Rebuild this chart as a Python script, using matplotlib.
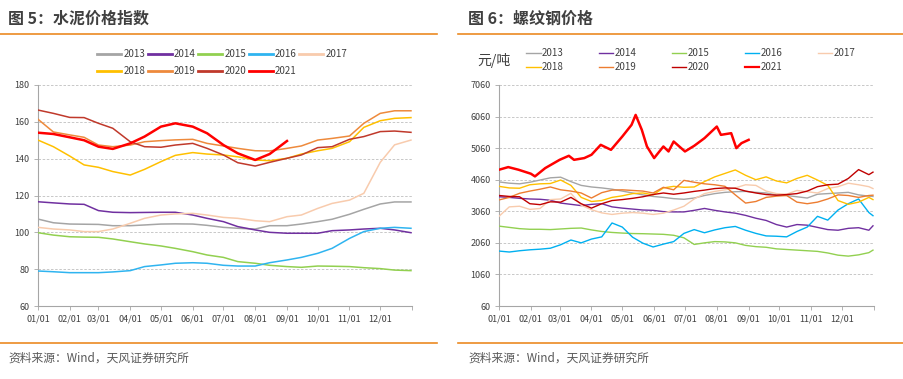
import matplotlib
matplotlib.use("Agg")
import matplotlib.pyplot as plt
from matplotlib.lines import Line2D

plt.rcParams['font.family'] = ['Noto Sans CJK SC', 'DejaVu Sans']

years = ['2013', '2014', '2015', '2016', '2017', '2018', '2019', '2020', '2021']
colors = ['#A5A5A5', '#7030A0', '#92D050', '#00B0F0', '#F8CBAD',
          '#FFC000', '#ED7D31', '#C00000', '#FF0000']
colors_left = ['#A5A5A5', '#7030A0', '#92D050', '#2FB4F0', '#F8CBAD',
               '#FFC000', '#EE8A3C', '#C0392B', '#FF0000']

month_days = [0, 31, 59, 90, 120, 151, 181, 212, 243, 273, 304, 334]
month_labels = ['01/01', '02/01', '03/01', '04/01', '05/01', '06/01',
                '07/01', '08/01', '09/01', '10/01', '11/01', '12/01']

# 图5 水泥价格指数 (semi-monthly readings)
cement_days = [0, 15, 31, 45, 59, 73, 90, 104, 120, 134, 151, 165, 181,
               195, 212, 226, 243, 257, 273, 287, 304, 318, 334, 348, 364]
cement_2013 = [107.2, 105.2, 104.5, 104.4, 104.3, 103.6, 103.6, 104.0, 104.5, 104.6, 104.5, 103.8, 102.7,
               102.2, 101.8, 103.6, 103.6, 104.5, 105.8, 107.1, 109.8, 112.5, 115.4, 116.5, 116.5]
cement_2014 = [116.6, 116.0, 115.4, 115.2, 111.8, 110.9, 110.7, 110.8, 110.9, 110.9, 109.4, 107.6, 105.8,
               103.1, 101.3, 100.0, 99.5, 99.5, 99.5, 100.9, 101.3, 101.8, 102.2, 101.3, 99.8]
cement_2015 = [99.8, 98.5, 97.6, 97.4, 97.3, 96.4, 94.9, 93.7, 92.6, 91.3, 89.5, 87.7, 86.4,
               84.1, 83.2, 82.1, 81.4, 81.0, 81.7, 81.6, 81.4, 80.8, 80.3, 79.5, 79.2]
cement_2016 = [79.0, 78.6, 78.1, 78.1, 78.1, 78.5, 79.2, 81.4, 82.3, 83.2, 83.5, 83.2, 82.1,
               81.7, 81.7, 83.5, 85.0, 86.4, 88.6, 91.3, 96.7, 100.4, 102.2, 102.7, 102.2]
cement_2017 = [102.7, 101.8, 101.3, 100.4, 100.4, 101.8, 104.9, 107.6, 109.4, 110.0, 110.3, 109.4, 108.1,
               107.6, 106.3, 105.8, 108.5, 109.4, 113.0, 115.7, 117.5, 121.2, 138.0, 147.5, 150.1]
cement_2018 = [150.1, 146.5, 141.4, 136.6, 135.3, 133.0, 131.1, 134.2, 138.4, 141.8, 143.3, 142.5, 142.0,
               141.0, 139.3, 138.9, 140.2, 142.5, 144.3, 145.6, 149.2, 157.0, 160.6, 161.9, 162.3]
cement_2019 = [161.4, 154.5, 152.9, 151.6, 147.4, 146.5, 147.4, 149.2, 149.8, 150.2, 150.5, 148.3, 146.9,
               145.6, 144.3, 144.2, 145.6, 146.9, 150.1, 151.0, 152.3, 159.2, 164.6, 166.0, 166.0]
cement_2020 = [166.4, 164.6, 162.4, 162.3, 159.2, 156.5, 149.2, 146.5, 146.2, 147.4, 148.3, 145.6, 142.0,
               137.8, 136.0, 138.0, 140.2, 142.0, 146.0, 146.5, 150.5, 152.0, 154.7, 155.0, 154.3]
cement_2021 = [154.1, 153.4, 151.6, 150.0, 146.5, 145.3, 148.3, 152.0, 157.4, 159.2, 157.4, 153.8, 147.4,
               142.9, 139.3, 142.5, 149.6]
cement = [cement_2013, cement_2014, cement_2015, cement_2016, cement_2017,
          cement_2018, cement_2019, cement_2020, cement_2021]

# 图6 螺纹钢价格 (readings every 10 days)
steel_days = [0, 10, 20, 30, 40, 50, 60, 70, 80, 90, 100, 110, 120, 130, 140, 150, 160, 170, 180,
              190, 200, 210, 220, 230, 240, 250, 260, 270, 280, 290, 300, 310, 320, 330, 340, 350, 360, 364]
steel_2013 = [3990, 3950, 3930, 3980, 4050, 4120, 4140, 4000, 3880, 3830, 3800, 3760, 3700, 3640, 3580, 3530, 3500, 3460, 3440,
              3480, 3560, 3620, 3660, 3680, 3690, 3660, 3640, 3580, 3560, 3520, 3480, 3600, 3620, 3640, 3660, 3580, 3540, 3530]
steel_2014 = [3520, 3500, 3470, 3450, 3440, 3410, 3320, 3280, 3240, 3280, 3300, 3200, 3160, 3130, 3100, 3090, 3050, 3040, 3040,
              3090, 3150, 3090, 3040, 3000, 2930, 2840, 2770, 2640, 2560, 2640, 2620, 2550, 2480, 2460, 2520, 2540, 2460, 2600]
steel_2015 = [2590, 2550, 2510, 2490, 2490, 2480, 2500, 2520, 2530, 2470, 2420, 2390, 2370, 2355, 2350, 2340, 2330, 2300, 2220,
              2010, 2060, 2100, 2090, 2060, 1980, 1940, 1920, 1870, 1850, 1830, 1810, 1790, 1740, 1670, 1640, 1680, 1750, 1830]
steel_2016 = [1800, 1770, 1810, 1840, 1860, 1890, 2000, 2150, 2060, 2180, 2250, 2690, 2560, 2240, 2050, 1930, 2020, 2100, 2360,
              2480, 2380, 2470, 2540, 2580, 2460, 2360, 2280, 2270, 2250, 2420, 2560, 2900, 2780, 3100, 3300, 3450, 3020, 2920]
steel_2017 = [2900, 3200, 3220, 3120, 3150, 3430, 3450, 3630, 3250, 3110, 3010, 2960, 3000, 3020, 3000, 2960, 3000, 3100, 3220,
              3450, 3620, 3690, 3740, 3800, 3900, 3880, 3700, 3620, 3600, 3720, 3680, 3640, 3780, 3840, 3950, 3900, 3840, 3780]
steel_2018 = [3850, 3800, 3790, 3900, 3930, 3940, 4050, 3880, 3500, 3370, 3400, 3500, 3550, 3620, 3640, 3580, 3800, 3850, 3820,
              3830, 4000, 4150, 4260, 4370, 4200, 4060, 4150, 4020, 3960, 4100, 4200, 4050, 3880, 3400, 3280, 3350, 3500, 3430]
steel_2019 = [3420, 3500, 3630, 3700, 3760, 3830, 3740, 3700, 3640, 3480, 3650, 3730, 3740, 3720, 3700, 3640, 3820, 3740, 4040,
              3980, 3930, 3900, 3850, 3580, 3320, 3370, 3500, 3540, 3560, 3350, 3300, 3350, 3450, 3580, 3560, 3500, 3560, 3570]
steel_2020 = [3560, 3530, 3520, 3300, 3270, 3360, 3350, 3500, 3300, 3160, 3300, 3400, 3430, 3470, 3520, 3590, 3640, 3600, 3640,
              3690, 3730, 3780, 3800, 3790, 3700, 3640, 3590, 3570, 3590, 3620, 3700, 3840, 3900, 3920, 4100, 4380, 4220, 4300]
steel_2021_days = [0, 9, 19, 31, 35, 45, 59, 68, 73, 83, 90, 99, 109, 120, 129, 133, 139, 144, 151,
                   160, 165, 170, 181, 190, 200, 212, 216, 226, 231, 236, 243]
steel_2021 = [4376, 4460, 4376, 4250, 4165, 4428, 4690, 4818, 4690, 4745, 4850, 5165, 5007, 5428, 5797, 6113, 5640, 5113, 4745,
              5113, 4955, 5270, 4955, 5134, 5376, 5744, 5481, 5534, 5060, 5218, 5323]
steel = [steel_2013, steel_2014, steel_2015, steel_2016, steel_2017,
         steel_2018, steel_2019, steel_2020, steel_2021]

W, H = 904, 379
fig = plt.figure(figsize=(W / 100, H / 100), dpi=100)

orange = '#EB8A23'
text_gray = '#595959'
axis_gray = '#A6A6A6'

# legend fills column by column, so interleave the two rows
leg_order = [0, 5, 1, 6, 2, 7, 3, 8, 4]


def px_rect(x0, y0, x1, y1):
    return [x0 / W, 1 - y1 / H, (x1 - x0) / W, (y1 - y0) / H]


def style_axes(ax, yticks):
    ax.set_xlim(0, 365)
    ax.set_ylim(yticks[0], yticks[-1])
    ax.set_yticks(yticks)
    ax.set_xticks(month_days + [365])
    ax.set_xticklabels(month_labels + [''])
    for s in ['top', 'right']:
        ax.spines[s].set_visible(False)
    for s in ['left', 'bottom']:
        ax.spines[s].set_color(axis_gray)
        ax.spines[s].set_linewidth(0.8)
    ax.tick_params(axis='both', colors=axis_gray, labelcolor='#404040',
                   labelsize=6.5, length=3, width=0.6, direction='out')
    ax.tick_params(axis='y', pad=3)
    ax.tick_params(axis='x', pad=3)
    ax.grid(axis='y', color='#BFBFBF', linestyle=(0, (3, 2)), linewidth=0.6)
    ax.set_axisbelow(True)


# left chart
ax1 = fig.add_axes(px_rect(38, 85, 412, 306))
for i, yr in enumerate(years):
    d = cement_days[:len(cement[i])]
    lw = 1.8 if yr == '2021' else 1.1
    ax1.plot(d, cement[i], color=colors_left[i], linewidth=lw, label=yr,
             zorder=3 + (i == 8))
style_axes(ax1, [60, 80, 100, 120, 140, 160, 180])

h1 = [Line2D([], [], color=colors_left[i], linewidth=2.0) for i in leg_order]
leg1 = fig.legend(h1, [years[i] for i in leg_order], loc='upper left',
                  bbox_to_anchor=(97 / W, 1 - 49 / H),
                  ncol=5, frameon=False, fontsize=7, handlelength=2.5,
                  handletextpad=0.2, columnspacing=0.25, labelspacing=0.75,
                  borderpad=0, borderaxespad=0)
for t in leg1.get_texts():
    t.set_color('#404040')

# right chart
ax2 = fig.add_axes(px_rect(499, 85, 874, 306))
for i, yr in enumerate(years):
    d = steel_2021_days if yr == '2021' else steel_days
    lw = 1.8 if yr == '2021' else 1.0
    ax2.plot(d, steel[i], color=colors[i], linewidth=lw, label=yr,
             zorder=3 + (i == 8))
style_axes(ax2, [60, 1060, 2060, 3060, 4060, 5060, 6060, 7060])

h2 = [Line2D([], [], color=colors[i], linewidth=1.6 if i == 8 else 1.0) for i in leg_order]
leg2 = fig.legend(h2, [years[i] for i in leg_order], loc='upper left',
                  bbox_to_anchor=(526 / W, 1 - 48 / H),
                  ncol=5, frameon=False, fontsize=7, handlelength=1.5,
                  handletextpad=0.15, columnspacing=3.6, labelspacing=0.45,
                  borderpad=0, borderaxespad=0)
for t in leg2.get_texts():
    t.set_color('#404040')
fig.text(477 / W, 1 - 60 / H, '元/吨', fontsize=10, color='#404040', va='center', ha='left')

# titles, separators, source notes
fig.text(8 / W, 1 - 19 / H, '图 5：水泥价格指数', fontsize=11.5, fontweight='bold',
         color='#404040', va='center', ha='left')
fig.text(468 / W, 1 - 19 / H, '图 6：螺纹钢价格', fontsize=11.5, fontweight='bold',
         color='#404040', va='center', ha='left')
for (x0, x1) in [(0, 437), (458, 904)]:
    fig.add_artist(Line2D([x0 / W, x1 / W], [1 - 34 / H] * 2, color=orange, linewidth=1.2))
    fig.add_artist(Line2D([x0 / W, x1 / W], [1 - 343 / H] * 2, color=orange, linewidth=1.2))
fig.text(8 / W, 1 - 358 / H, '资料来源：Wind，天风证券研究所', fontsize=8.5,
         color=text_gray, va='center', ha='left')
fig.text(468 / W, 1 - 358 / H, '资料来源：Wind，天风证券研究所', fontsize=8.5,
         color=text_gray, va='center', ha='left')

fig.savefig('out.png', dpi=100)
plt.close(fig)
